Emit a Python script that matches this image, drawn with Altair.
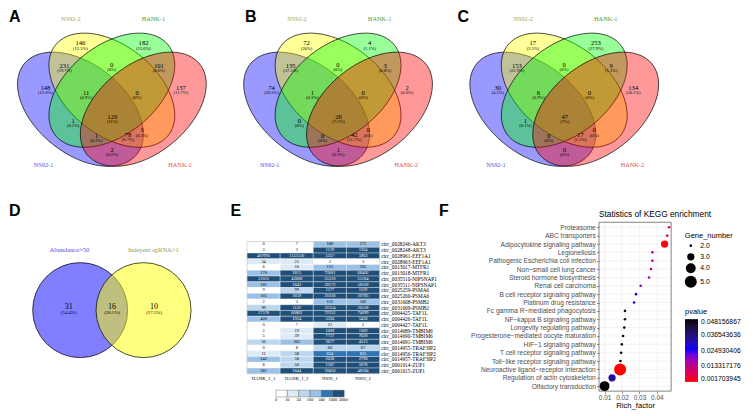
import math
import altair as alt
import pandas as pd

# ======================= DATA =======================
set_names = ["NS92-1", "NS92-2", "HANK-1", "HANK-2"]
# region order: 1, 2, 3, 4, 12, 23, 34, 123, 234, 13, 1234, 24, 134, 124, 14
venn_a = [148, 146, 182, 137, 231, 0, 101, 11, 0, 1, 129, 3, 1, 78, 2]
venn_b = [74, 72, 4, 2, 135, 0, 3, 1, 0, 0, 26, 0, 0, 42, 1]
venn_c = [30, 17, 253, 134, 153, 0, 9, 6, 0, 1, 47, 0, 0, 17, 0]

d_names = ["Abundance>50", "Indepent sgRNA>1"]
venn_d = [31, 16, 10]

heat_cols = ["HANK_1_1", "HANK_1_2", "NS92_1", "NS92_2"]
heat_rows = [
    "circ_0028246-AKT3", "circ_0028248-AKT3", "circ_0028961-EEF1A1", "circ_0028963-EEF1A1",
    "circ_0013017-MTFR1", "circ_0013018-MTFR1", "circ_0035510-NIPSNAP1", "circ_0035511-NIPSNAP1",
    "circ_0025259-PSMA6", "circ_0025260-PSMA6", "circ_0031608-PSMB2", "circ_0031609-PSMB2",
    "circ_0064425-TAF1L", "circ_0064426-TAF1L", "circ_0064427-TAF1L",
    "circ_0014689-TMBIM6", "circ_0014690-TMBIM6", "circ_0014691-TMBIM6",
    "circ_0014955-TRAF3IP2", "circ_0014956-TRAF3IP2", "circ_0014957-TRAF3IP2",
    "circ_0061014-ZUP1", "circ_0061015-ZUP1",
]
hank_1_1 = [0, 3, 407995, 34, 6, 270, 12012, 181, 9, 165, 2, 99, 17578, 400, 0, 2, 5, 56, 0, 11, 242, 8, 381]
hank_1_2 = [7, 3, 1133150, 25, 16, 1815, 43608, 1842, 99, 1839, 3, 1122, 60862, 1924, 7, 19, 39, 162, 8, 58, 58, 56, 1844]
ns92_1 = [186, 1139, 5357, 3, 131, 73661, 55310, 59172, 1577, 21618, 122, 22554, 72252, 5356, 21, 1009, 7737,
          3677, 60, 834, 2628, 1567, 59450]
ns92_2 = [271, 1304, 5963, 3, 205, 68402, 51184, 58109, 1119, 20785, 182, 26528, 74099, 5438, 2, 1369, 7628,
          4513, 67, 825, 2798, 1678, 48184]
heat_breaks = [10, 50, 100, 500, 1000]
heat_break_labels = ["0", "10", "50", "100", "500", "1000", "5000+"]

kegg_terms = [
    "Proteasome", "ABC transporters", "Adipocytokine signaling pathway", "Legionellosis",
    "Pathogenic Escherichia coli infection", "Non\u2212small cell lung cancer", "Steroid hormone biosynthesis",
    "Renal cell carcinoma", "B cell receptor signaling pathway", "Platinum drug resistance",
    "Fc gamma R\u2212mediated phagocytosis", "NF\u2212kappa B signaling pathway", "Longevity regulating pathway",
    "Progesterone\u2212mediated oocyte maturation", "HIF\u22121 signaling pathway",
    "T cell receptor signaling pathway", "Toll\u2212like receptor signaling pathway",
    "Neuroactive ligand\u2212receptor interaction", "Regulation of actin cytoskeleton", "Olfactory transduction",
]
rich_factor = [0.0470, 0.0459, 0.0444, 0.0374, 0.0374, 0.0366, 0.0355, 0.0307, 0.0280, 0.0269,
               0.0217, 0.0217, 0.0213, 0.0206, 0.0199, 0.0195, 0.0191, 0.0189, 0.0143, 0.0100]
gene_number = [2, 2, 3, 2, 2, 2, 2, 2, 2, 2, 2, 2, 2, 2, 2, 2, 2, 5, 3, 4]
pvalue = [0.0060, 0.0065, 0.0020, 0.0128, 0.0128, 0.0135, 0.0150, 0.0205, 0.0262, 0.0270,
          0.0440, 0.0440, 0.0450, 0.0460, 0.0470, 0.0475, 0.0478, 0.001703945, 0.0330, 0.048156867]
pvalue_ticks = [0.048156867, 0.036543636, 0.024930406, 0.013317176, 0.001703945]
gene_ticks = [2, 3, 4, 5]
rich_ticks = [0.01, 0.02, 0.03, 0.04]
rich_minor = [0.015, 0.025, 0.035, 0.045]

# ======================= LAYOUT / STYLE =======================
KX, KY = 0.975, 0.965


def fx(rx):
    return (rx - 2) * KX


def fy(ry):
    return (ry - 3) * KY


SERIF = "Liberation Serif"
SANS = "Liberation Sans"
LETTER = dict(font=SANS, fontSize=16, fontWeight="bold", align="left", baseline="alphabetic", color="black")

PX_U = 215 * KX
PX_V = 197 * KY
VENN_W = 208
U_LO = 2 * KX / PX_U
V_TOP = 1 - 1.6 / 197
SC = fx(232) - fx(0) - VENN_W   # spacing of the top row
HA = fy(200)                    # top row height; bottom row starts here
WD = fx(246)                    # D cell width (E starts at the table's left edge)
WE = fx(607) - fx(246)          # E cell width (F starts at its plot's left edge)
HD = fy(413) - HA

# 4-set Venn geometry (quad layout in a unit square)
ell_u = [0.35, 0.5, 0.5, 0.65]
ell_v = [0.47, 0.57, 0.57, 0.47]
ell_rot = [-45, -45, 45, 45]
ell_fill = ["#0000FF", "#FFFF00", "#00FF00", "#FF0000"]
SYM_S = 100.0


def ellipse_path(rot_deg, a=0.36, b=0.225, n=90):
    r = math.radians(rot_deg)
    pts = []
    for k in range(n):
        t = 2 * math.pi * k / n
        du = a * math.cos(t) * math.cos(r) - b * math.sin(t) * math.sin(r)
        dv = a * math.cos(t) * math.sin(r) + b * math.sin(t) * math.cos(r)
        pts.append(f"{du * PX_U / SYM_S:.4f} {-dv * PX_V / SYM_S:.4f}")
    return "M " + " L ".join(pts) + " Z"


ell_path = [ellipse_path(r) for r in ell_rot]
name_u = [0.174, 0.304, 0.698, 0.825]
name_v = [0.178, 0.945, 0.945, 0.178]
name_col = ["#5050E8", "#A8A84A", "#3EA03E", "#E05050"]
reg_u = [0.183, 0.350, 0.651, 0.829, 0.274, 0.499, 0.724, 0.377, 0.620, 0.315, 0.502, 0.643, 0.426, 0.577, 0.501]
reg_v = [0.576, 0.809, 0.809, 0.576, 0.689, 0.694, 0.689, 0.550, 0.550, 0.401, 0.422, 0.351, 0.323, 0.328, 0.249]


def pct_labels(counts):
    total = sum(counts)
    out = []
    for c in counts:
        s = f"{round(100.0 * c / total, 1):.1f}"
        s = s.rstrip("0").rstrip(".")
        out.append("(" + s + "%)")
    return out


def venn4(counts, letter, letter_x):
    xs = alt.Scale(domain=[U_LO, U_LO + VENN_W / PX_U], nice=False, zero=False)
    ys = alt.Scale(domain=[V_TOP - HA / PX_V, V_TOP], nice=False, zero=False)
    ell = alt.Chart(pd.DataFrame({"u": ell_u, "v": ell_v, "sh": ell_path, "f": ell_fill})).mark_point(
        size=(2 * SYM_S) ** 2, filled=True, fillOpacity=0.4, opacity=1,
        stroke="black", strokeWidth=0.7, strokeOpacity=1,
    ).encode(
        x=alt.X("u:Q", scale=xs, axis=None), y=alt.Y("v:Q", scale=ys, axis=None),
        shape=alt.Shape("sh:N", scale=None), fill=alt.Fill("f:N", scale=None),
    )
    names = alt.Chart(pd.DataFrame({"u": name_u, "v": name_v, "t": set_names, "c": name_col})).mark_text(
        font=SERIF, fontSize=6.3).encode(
        x=alt.X("u:Q", scale=xs, axis=None), y=alt.Y("v:Q", scale=ys, axis=None),
        text="t:N", color=alt.Color("c:N", scale=None))
    reg = pd.DataFrame({"u": reg_u, "v": reg_v, "n": [str(c) for c in counts], "p": pct_labels(counts)})
    cnt = alt.Chart(reg).mark_text(font=SERIF, fontSize=6.6, color="black", dy=-1.5).encode(
        x=alt.X("u:Q", scale=xs, axis=None), y=alt.Y("v:Q", scale=ys, axis=None), text="n:N")
    pct = alt.Chart(reg).mark_text(font=SERIF, fontSize=4.5, color="black", dy=3.8).encode(
        x=alt.X("u:Q", scale=xs, axis=None), y=alt.Y("v:Q", scale=ys, axis=None), text="p:N")
    let = alt.Chart(pd.DataFrame({"t": [letter]})).mark_text(**LETTER).encode(
        x=alt.value(letter_x), y=alt.value(11.6), text="t:N")
    return alt.layer(ell, names, cnt, pct, let).properties(width=VENN_W, height=HA)


# ---------------- panel D ----------------
def venn2():
    xs = alt.Scale(domain=[0, WD / (225.3 * KX)], nice=False, zero=False)
    ys = alt.Scale(domain=[0, 1], nice=False, zero=False)
    circ = alt.Chart(pd.DataFrame({"u": [0.324, 0.6125], "v": [0.474, 0.474],
                                   "f": ["#0000FF", "#FFFF00"]})).mark_point(
        shape="circle", size=95 ** 2, filled=True, fillOpacity=0.5, opacity=1,
        stroke="black", strokeWidth=0.7, strokeOpacity=1,
    ).encode(x=alt.X("u:Q", scale=xs, axis=None), y=alt.Y("v:Q", scale=ys, axis=None),
             fill=alt.Fill("f:N", scale=None))
    names = alt.Chart(pd.DataFrame({"u": [0.275, 0.657], "v": [0.765, 0.765], "t": d_names,
                                    "c": ["#5050E8", "#9A9A58"]})).mark_text(font=SERIF, fontSize=6.5).encode(
        x=alt.X("u:Q", scale=xs, axis=None), y=alt.Y("v:Q", scale=ys, axis=None),
        text="t:N", color=alt.Color("c:N", scale=None))
    reg = pd.DataFrame({"u": [0.272, 0.469, 0.660], "v": [0.487, 0.487, 0.487],
                        "n": [str(c) for c in venn_d], "p": pct_labels(venn_d)})
    cnt = alt.Chart(reg).mark_text(font=SERIF, fontSize=8, color="black").encode(
        x=alt.X("u:Q", scale=xs, axis=None), y=alt.Y("v:Q", scale=ys, axis=None), text="n:N")
    pct = alt.Chart(reg).mark_text(font=SERIF, fontSize=4.8, color="black", dy=6).encode(
        x=alt.X("u:Q", scale=xs, axis=None), y=alt.Y("v:Q", scale=ys, axis=None), text="p:N")
    let = alt.Chart(pd.DataFrame({"t": ["D"]})).mark_text(**LETTER).encode(
        x=alt.value(0), y=alt.value(fy(215) - HA), text="t:N")
    return alt.layer(circ, names, cnt, pct, let).properties(width=WD, height=HD)


# ---------------- panel E ----------------
heat_colors = ["#FFFFFF", "#DDEBF7", "#BDD7EE", "#9BC2E6", "#2F75B5", "#1F4E78"]


def heatmap():
    oy = fy(241) - HA
    tw = fx(382) - fx(246)
    th = fy(378) - fy(241)
    recs = []
    for col, vals in zip(heat_cols, [hank_1_1, hank_1_2, ns92_1, ns92_2]):
        for r, v in zip(heat_rows, vals):
            recs.append({"row": r, "col": col, "v": v, "t": str(v)})
    df = pd.DataFrame(recs)
    xb = alt.Scale(domain=heat_cols, range=[0, tw], paddingInner=0, paddingOuter=0)
    yb = alt.Scale(domain=heat_rows, range=[oy, oy + th], paddingInner=0, paddingOuter=0)
    rect = alt.Chart(df).mark_rect(stroke="#FFFFFF", strokeWidth=0.35).encode(
        x=alt.X("col:N", scale=xb, axis=None), y=alt.Y("row:N", scale=yb, axis=None),
        color=alt.Color("v:Q", scale=alt.Scale(type="threshold", domain=heat_breaks, range=heat_colors),
                        legend=None))
    txt = alt.Chart(df).mark_text(font=SERIF, fontSize=4.4).encode(
        x=alt.X("col:N", scale=xb, axis=None), y=alt.Y("row:N", scale=yb, axis=None), text="t:N",
        color=alt.condition("datum.v >= 500", alt.value("white"), alt.value("black")))
    frame = alt.Chart(pd.DataFrame({"k": [0]})).mark_rect(fill="transparent", stroke="#B0B0B0",
                                                          strokeWidth=0.5).encode(
        x=alt.value(0), x2=alt.value(tw), y=alt.value(oy), y2=alt.value(oy + th))
    collab = alt.Chart(pd.DataFrame({"col": heat_cols})).mark_text(font=SERIF, fontSize=4.8,
                                                                    baseline="middle").encode(
        x=alt.X("col:N", scale=xb, axis=None), y=alt.value(fy(383) - HA), text="col:N")
    rowlab = alt.Chart(pd.DataFrame({"row": heat_rows})).mark_text(font=SERIF, fontSize=5.3, align="left",
                                                                    baseline="middle").encode(
        x=alt.value(fx(383.7) - fx(246)), y=alt.Y("row:N", scale=yb, axis=None), text="row:N")
    ls = alt.Scale(domain=[0, 6], range=[fx(275.7) - fx(246), fx(345.7) - fx(246)], nice=False, zero=False)
    boxes = pd.DataFrame({"a": list(range(6)), "b": list(range(1, 7)), "c": heat_colors})
    lbox = alt.Chart(boxes).mark_rect(stroke="#555555", strokeWidth=0.4).encode(
        x=alt.X("a:Q", scale=ls, axis=None), x2="b:Q",
        y=alt.value(fy(395) - HA), y2=alt.value(fy(402) - HA),
        fill=alt.Fill("c:N", scale=None))
    ltxt = alt.Chart(pd.DataFrame({"i": list(range(7)), "t": heat_break_labels})).mark_text(
        font=SERIF, fontSize=4.3, baseline="middle").encode(
        x=alt.X("i:Q", scale=ls, axis=None), y=alt.value(fy(405.5) - HA), text="t:N")
    let = alt.Chart(pd.DataFrame({"t": ["E"]})).mark_text(**LETTER).encode(
        x=alt.value(fx(229) - fx(246)), y=alt.value(fy(215) - HA), text="t:N")
    return alt.layer(rect, txt, frame, collab, rowlab, lbox, ltxt, let).resolve_scale(
        x="independent").properties(width=WE, height=HD)


# ---------------- panel F ----------------
def kegg():
    fw = fx(681) - fx(607)
    oy = fy(221) - HA
    fb = fy(396) - HA
    x_lo = 0.01 - (612.7 - 607) / 1790
    x_hi = 0.01 + (681 - 612.7) / 1790
    xs = alt.Scale(domain=[x_lo, x_hi], nice=False, zero=False)
    ys = alt.Scale(domain=kegg_terms, type="point", padding=0.6, range=[oy, fb])
    x_axis = alt.Axis(
        values=rich_ticks, format=".2f", title="Rich_factor", titleFont=SANS, titleFontSize=7.7,
        titleFontWeight="normal", titleColor="black", titlePadding=0.5, labelFont=SANS, labelFontSize=6.5,
        labelColor="#4D4D4D", labelPadding=1, tickColor="#333333", tickSize=2.5, tickWidth=0.5,
        domain=False, grid=False)
    y_axis = alt.Axis(
        title=None, labelFont=SANS, labelFontSize=6.6, labelColor="#4D4D4D", labelPadding=1.2,
        labelLimit=0, tickColor="#333333", tickSize=2.5, tickWidth=0.5, domain=False, grid=False)
    df = pd.DataFrame({"term": kegg_terms, "rf": rich_factor, "gn": gene_number, "p": pvalue})
    pmin, pmax = min(pvalue), max(pvalue)
    xminor = alt.Chart(pd.DataFrame({"rf": rich_minor})).mark_rule(color="#EEEEEE", strokeWidth=0.3).encode(
        x=alt.X("rf:Q", scale=xs, axis=x_axis), y=alt.value(oy), y2=alt.value(fb))
    xmajor = alt.Chart(pd.DataFrame({"rf": rich_ticks})).mark_rule(color="#E6E6E6", strokeWidth=0.5).encode(
        x=alt.X("rf:Q", scale=xs, axis=x_axis), y=alt.value(oy), y2=alt.value(fb))
    ymajor = alt.Chart(pd.DataFrame({"term": kegg_terms})).mark_rule(color="#E6E6E6", strokeWidth=0.5).encode(
        y=alt.Y("term:N", scale=ys, axis=y_axis), x=alt.value(0), x2=alt.value(fw))
    pts = alt.Chart(df).mark_circle(opacity=1).encode(
        x=alt.X("rf:Q", scale=xs, axis=x_axis),
        y=alt.Y("term:N", scale=ys, axis=y_axis),
        size=alt.Size("gn:Q", scale=alt.Scale(domain=[2, 5], range=[6.8, 144], zero=False),
                      legend=alt.Legend(
                          title="Gene_number", values=gene_ticks, orient="none", legendX=85.8,
                          legendY=oy + 9.5, padding=0, titleFont=SANS, titleFontSize=7.5,
                          titleFontWeight="normal", titleColor="black", titlePadding=3, labelFont=SANS,
                          labelFontSize=6.8, labelColor="black", labelOffset=3.5, symbolFillColor="black",
                          symbolStrokeColor="black", symbolStrokeWidth=0, symbolType="circle",
                          rowPadding=2.5)),
        color=alt.Color("p:Q", scale=alt.Scale(domain=[pmin, (pmin + pmax) / 2, pmax],
                                               range=["#FF0000", "#0000FF", "#000000"], interpolate="lab"),
                        legend=alt.Legend(
                            title="pvalue", values=pvalue_ticks, format=".9f", orient="none", legendX=86,
                            legendY=oy + 86, padding=0, direction="vertical",
                            gradientLength=fy(386.7) - fy(321.7), gradientThickness=13, gradientStrokeWidth=0,
                            labelOverlap=False, titleFont=SANS, titleFontSize=7.5, titleFontWeight="normal",
                            titleColor="black", titlePadding=3.4, labelFont=SANS, labelFontSize=6.8,
                            labelColor="black", labelOffset=3)),
    )
    border = alt.Chart(pd.DataFrame({"k": [0]})).mark_rect(fill="transparent", stroke="#333333",
                                                           strokeWidth=0.6).encode(
        x=alt.value(0), x2=alt.value(fw), y=alt.value(oy), y2=alt.value(fb))
    title = alt.Chart(pd.DataFrame({"t": ["Statistics of KEGG enrichment"]})).mark_text(
        font=SANS, fontSize=8.3, align="left", baseline="alphabetic", color="black").encode(
        x=alt.value(0), y=alt.value(fy(216) - HA), text="t:N")
    let = alt.Chart(pd.DataFrame({"t": ["F"]})).mark_text(**LETTER).encode(
        x=alt.value(fx(443) - fx(607)), y=alt.value(fy(215) - HA), text="t:N")
    return alt.layer(xminor, xmajor, ymajor, pts, border, title, let).properties(width=fw, height=fb)


def indep(c):
    return c.resolve_scale(
        color="independent", size="independent", fill="independent", shape="independent"
    ).resolve_legend(color="independent", size="independent")


pa = venn4(venn_a, "A", 0)
pb = venn4(venn_b, "B", fx(240) - fx(232) + 1.95)
pc = venn4(venn_c, "C", fx(458) - fx(464) + 1.95)

top = indep(alt.hconcat(pa, pb, pc, spacing=SC, bounds="flush"))
bottom = indep(alt.hconcat(venn2(), heatmap(), kegg(), spacing=0, bounds="flush"))
chart = indep(alt.vconcat(top, bottom, spacing=0)).properties(
    padding=0, background="white").configure_view(stroke="transparent")

chart.save("out.html", embed_options={"renderer": "svg", "actions": False})
